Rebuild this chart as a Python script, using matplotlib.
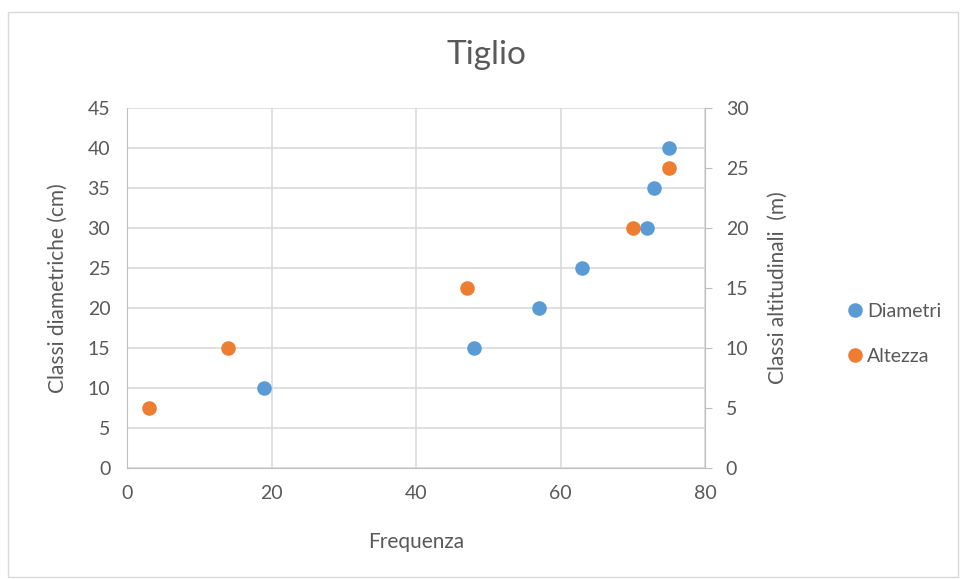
import matplotlib
matplotlib.use("Agg")
import matplotlib.pyplot as plt
from matplotlib.patches import Rectangle
from matplotlib.lines import Line2D

plt.rcParams['font.family'] = ['Lato', 'DejaVu Sans']

# Diametri (left axis)
freq_diam = [19, 48, 57, 63, 72, 73, 75]
classi_diam = [10, 15, 20, 25, 30, 35, 40]
# Altezza (right axis)
freq_alt = [3, 14, 47, 70, 75]
classi_alt = [5, 10, 15, 20, 25]

blue = '#5B9BD5'
orange = '#ED7D31'
text_c = '#595959'
grid_c = '#D9D9D9'

fig = plt.figure(figsize=(9.6, 5.79), dpi=100)
ax = fig.add_axes([127/960, 1 - 468/579, (705-127)/960, (468-108)/579])
ax2 = ax.twinx()

ax.scatter(freq_diam, classi_diam, s=110, color=blue, zorder=3, linewidths=0)
ax2.scatter(freq_alt, classi_alt, s=110, color=orange, zorder=3, linewidths=0)

ax.set_xlim(0, 80)
ax.set_ylim(0, 45)
ax2.set_ylim(0, 30)
ax.set_xticks(range(0, 81, 20))
ax.set_yticks(range(0, 46, 5))
ax2.set_yticks(range(0, 31, 5))

ax.grid(True, color=grid_c, linewidth=1.2)
ax.set_axisbelow(True)

for a in (ax, ax2):
    for s in a.spines.values():
        s.set_visible(False)
    a.tick_params(colors=text_c, labelsize=14, length=0, pad=12)
ax.spines['left'].set_visible(True)
ax.spines['left'].set_color('#BFBFBF')
ax.spines['bottom'].set_visible(True)
ax.spines['bottom'].set_color('#BFBFBF')
ax2.spines['right'].set_visible(True)
ax2.spines['right'].set_color('#BFBFBF')
ax2.tick_params(axis='y', length=5, color='#BFBFBF', pad=10)

ax.set_xlabel('Frequenza', color=text_c, fontsize=15, labelpad=22)
ax.set_ylabel('Classi diametriche (cm)', color=text_c, fontsize=15, labelpad=14)
ax2.set_ylabel('Classi altitudinali  (m)', color=text_c, fontsize=15, labelpad=14)

fig.text(486/960, 1 - 55/579, 'Tiglio', ha='center', va='center', fontsize=24, color=text_c)

handles = [
    Line2D([], [], marker='o', linestyle='none', markersize=10.5, color=blue, markeredgewidth=0, label='Diametri'),
    Line2D([], [], marker='o', linestyle='none', markersize=10.5, color=orange, markeredgewidth=0, label='Altezza'),
]
leg = fig.legend(handles=handles, loc='center left', bbox_to_anchor=(826/960, 1 - 334/579),
                 frameon=False, fontsize=14, handletextpad=0.0, labelspacing=1.45,
                 handlelength=1.2)
for t in leg.get_texts():
    t.set_color(text_c)

fig.patches.append(Rectangle((8/960, 2/579), 950/960, 565/579, transform=fig.transFigure,
                             fill=False, edgecolor='#D9D9D9', linewidth=1))

fig.savefig('out.png', dpi=100)
